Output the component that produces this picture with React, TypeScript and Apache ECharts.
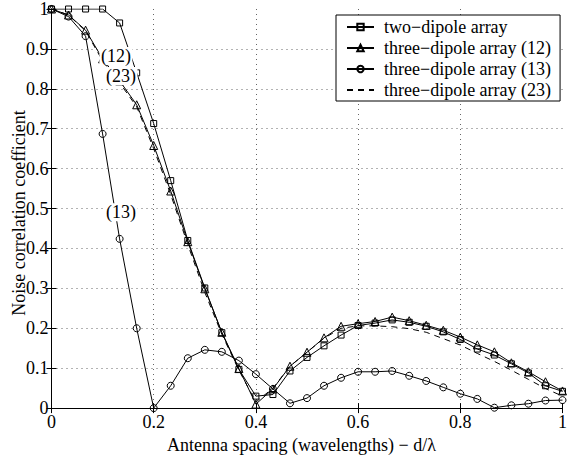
import React, { useEffect, useRef } from "react";
import * as echarts from "echarts";

const FONT = "Liberation Serif";
const FS = 18;

const spacing = [0, 0.0333, 0.0667, 0.1, 0.1333, 0.1667, 0.2, 0.2333, 0.2667, 0.3, 0.3333, 0.3667, 0.4, 0.4333, 0.4667, 0.5, 0.5333, 0.5667, 0.6, 0.6333, 0.6667, 0.7, 0.7333, 0.7667, 0.8, 0.8333, 0.8667, 0.9, 0.9333, 0.9667, 1];

const twoDipole = [1, 1, 1, 1, 0.965, 0.84, 0.713, 0.57, 0.42, 0.301, 0.189, 0.097, 0.03, 0.034, 0.093, 0.127, 0.156, 0.183, 0.207, 0.213, 0.221, 0.215, 0.205, 0.191, 0.172, 0.148, 0.133, 0.111, 0.088, 0.056, 0.042];

const three12 = [1, 0.985, 0.947, 0.875, 0.82, 0.76, 0.658, 0.544, 0.417, 0.299, 0.19, 0.099, 0.01, 0.048, 0.105, 0.14, 0.176, 0.205, 0.2115, 0.217, 0.228, 0.219, 0.2075, 0.195, 0.178, 0.1585, 0.141, 0.1135, 0.091, 0.066, 0.043];

const three13 = [1, 0.981, 0.932, 0.687, 0.424, 0.2, 0, 0.056, 0.125, 0.146, 0.141, 0.119, 0.085, 0.048, 0.012, 0.025, 0.056, 0.076, 0.091, 0.091, 0.093, 0.081, 0.068, 0.052, 0.036, 0.023, 0.001, 0.007, 0.011, 0.019, 0.02];

const three23 = [1, 0.985, 0.945, 0.87, 0.815, 0.755, 0.65, 0.535, 0.41, 0.29, 0.185, 0.095, 0.015, 0.05, 0.105, 0.14, 0.175, 0.2, 0.206, 0.206, 0.204, 0.199, 0.19, 0.174, 0.158, 0.137, 0.117, 0.095, 0.072, 0.049, 0.03];

const seriesNames = [
  "two\u2212dipole array",
  "three\u2212dipole array (12)",
  "three\u2212dipole array (13)",
  "three\u2212dipole array (23)",
];

const curveLabels = ["(12)", "(23)", "(13)"];
const curveLabelPos = [
  [0.126, 0.882],
  [0.136, 0.832],
  [0.136, 0.491],
];

const xTitle = "Antenna spacing (wavelengths) \u2212 d/\u03bb";
const yTitle = "Noise correlation coefficient";

function pairs(ys: number[]) {
  return spacing.map((x, i) => [x, ys[i]]);
}

const hollow = { color: "rgba(0,0,0,0)", borderColor: "#000", borderWidth: 1 };
const line = { color: "#000", width: 1 };

export default function App() {
  const ref = useRef<HTMLDivElement>(null);
  useEffect(() => {
    if (!ref.current) return;
    const chart = echarts.init(ref.current, undefined, { renderer: "svg" });
    const tick = { inside: true, length: 5, lineStyle: { color: "#000", width: 1 } };
    const axisLine = { show: true, lineStyle: { color: "#000", width: 1 } };
    const split = {
      show: true,
      showMinLine: false,
      showMaxLine: false,
      lineStyle: { color: "#666", width: 1, type: [1, 4] },
    };
    const labelStyle = { color: "#000", fontSize: FS, fontFamily: FONT };
    chart.setOption({
      animation: false,
      backgroundColor: "#fff",
      textStyle: { fontFamily: FONT },
      grid: { left: 51.5, right: 1, top: 9, bottom: 42, show: false },
      xAxis: [
        {
          type: "value",
          min: 0,
          max: 1,
          interval: 0.2,
          position: "bottom",
          axisLine,
          axisTick: tick,
          axisLabel: { ...labelStyle, margin: 5 },
          splitLine: split,
          name: xTitle,
          nameLocation: "middle",
          nameGap: 16,
          nameTextStyle: { ...labelStyle, padding: [0, 11, 0, 0] },
        },
        {
          type: "value",
          min: 0,
          max: 1,
          interval: 0.2,
          position: "top",
          axisLine,
          axisTick: tick,
          axisLabel: { show: false },
          splitLine: { show: false },
        },
      ],
      yAxis: [
        {
          type: "value",
          min: 0,
          max: 1,
          interval: 0.1,
          position: "left",
          axisLine,
          axisTick: tick,
          axisLabel: { ...labelStyle, margin: 3 },
          splitLine: split,
        },
        {
          type: "value",
          min: 0,
          max: 1,
          interval: 0.1,
          position: "right",
          axisLine,
          axisTick: tick,
          axisLabel: { show: false },
          splitLine: { show: false },
        },
      ],
      legend: {
        orient: "vertical",
        left: 336,
        top: 15,
        padding: [3, 9, 2, 10],
        itemGap: 3,
        itemWidth: 27,
        itemHeight: 8,
        backgroundColor: "#fff",
        borderColor: "#000",
        borderWidth: 1,
        borderRadius: 0,
        lineStyle: { color: "#000" },
        textStyle: { ...labelStyle, lineHeight: 18, padding: [0, 0, 0, 5] },
        data: seriesNames,
      },
      graphic: [
        {
          type: "text",
          x: 19,
          y: 213,
          rotation: Math.PI / 2,
          style: {
            text: yTitle,
            font: `${FS}px "${FONT}"`,
            fill: "#000",
            textAlign: "center",
            textVerticalAlign: "middle",
          },
        },
      ],
      series: [
        {
          name: seriesNames[0],
          type: "line",
          data: pairs(twoDipole),
          symbol: "rect",
          symbolSize: 6,
          itemStyle: hollow,
          lineStyle: line,
        },
        {
          name: seriesNames[1],
          type: "line",
          data: pairs(three12),
          symbol: "triangle",
          symbolSize: 8,
          itemStyle: hollow,
          lineStyle: line,
        },
        {
          name: seriesNames[2],
          type: "line",
          data: pairs(three13),
          symbol: "circle",
          symbolSize: 7,
          itemStyle: hollow,
          lineStyle: line,
        },
        {
          name: seriesNames[3],
          type: "line",
          data: pairs(three23),
          symbol: "none",
          itemStyle: { color: "rgba(0,0,0,0)", borderWidth: 0 },
          lineStyle: { color: "#000", width: 1, type: [6, 5] },
          markPoint: {
            silent: true,
            symbol: "rect",
            symbolSize: [33, 18],
            itemStyle: { color: "#fff", borderWidth: 0 },
            label: {
              show: true,
              position: "inside",
              formatter: "{b}",
              ...labelStyle,
            },
            data: curveLabels.map((t, i) => ({ name: t, coord: curveLabelPos[i] })),
          },
        },
      ],
    });
    return () => chart.dispose();
  }, []);
  return (
    <div
      ref={ref}
      style={{ position: "absolute", left: 0, top: 0, width: 570, height: 459 }}
    />
  );
}
